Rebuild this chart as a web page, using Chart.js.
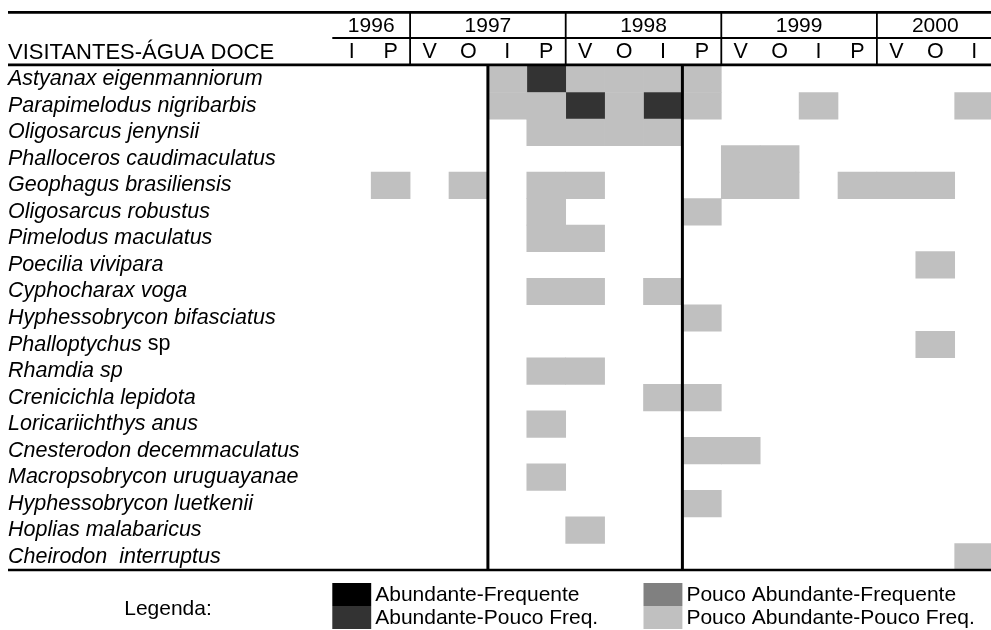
<!DOCTYPE html>
<html><head><meta charset="utf-8">
<script src="https://cdn.jsdelivr.net/npm/chart.js@4"></script>
<style>html,body{margin:0;padding:0;background:#fff;}canvas{display:block;}</style>
</head><body>
<canvas id="c" width="991" height="630"></canvas>
<script>
// ---- DATA ----
const years = ['1996', '1997', '1998', '1999', '2000'];
const seasonsPerYear = [2, 4, 4, 4, 3];
const seasons = ['I','P','V','O','I','P','V','O','I','P','V','O','I','P','V','O','I'];
const title = 'VISITANTES-ÁGUA DOCE';
const species = [
  'Astyanax eigenmanniorum','Parapimelodus nigribarbis','Oligosarcus jenynsii',
  'Phalloceros caudimaculatus','Geophagus brasiliensis','Oligosarcus robustus',
  'Pimelodus maculatus','Poecilia vivipara','Cyphocharax voga',
  'Hyphessobrycon bifasciatus','Phalloptychus','Rhamdia sp','Crenicichla lepidota',
  'Loricariichthys anus','Cnesterodon decemmaculatus','Macropsobrycon uruguayanae',
  'Hyphessobrycon luetkenii','Hoplias malabaricus','Cheirodon  interruptus'
];
const speciesUpright = ['','','','','','','','','','',' sp','','','','','','','',''];
// abundance code per species per season:
// 0 absent, 1 Pouco Abundante-Pouco Freq., 2 Pouco Abundante-Frequente,
// 3 Abundante-Pouco Freq., 4 Abundante-Frequente
const abundance = [
  [0,0,0,0,1,3,1,1,1,1,0,0,0,0,0,0,0],
  [0,0,0,0,1,1,3,1,3,1,0,0,1,0,0,0,1],
  [0,0,0,0,0,1,1,1,1,0,0,0,0,0,0,0,0],
  [0,0,0,0,0,0,0,0,0,0,1,1,0,0,0,0,0],
  [0,1,0,1,0,1,1,0,0,0,1,1,0,1,1,1,0],
  [0,0,0,0,0,1,0,0,0,1,0,0,0,0,0,0,0],
  [0,0,0,0,0,1,1,0,0,0,0,0,0,0,0,0,0],
  [0,0,0,0,0,0,0,0,0,0,0,0,0,0,0,1,0],
  [0,0,0,0,0,1,1,0,1,0,0,0,0,0,0,0,0],
  [0,0,0,0,0,0,0,0,0,1,0,0,0,0,0,0,0],
  [0,0,0,0,0,0,0,0,0,0,0,0,0,0,0,1,0],
  [0,0,0,0,0,1,1,0,0,0,0,0,0,0,0,0,0],
  [0,0,0,0,0,0,0,0,1,1,0,0,0,0,0,0,0],
  [0,0,0,0,0,1,0,0,0,0,0,0,0,0,0,0,0],
  [0,0,0,0,0,0,0,0,0,1,1,0,0,0,0,0,0],
  [0,0,0,0,0,1,0,0,0,0,0,0,0,0,0,0,0],
  [0,0,0,0,0,0,0,0,0,1,0,0,0,0,0,0,0],
  [0,0,0,0,0,0,1,0,0,0,0,0,0,0,0,0,0],
  [0,0,0,0,0,0,0,0,0,0,0,0,0,0,0,0,1]
];
const periodBounds = [4, 9]; // season indices of the two heavy vertical rules
const legendTitle = 'Legenda:';
const legendLabels = ['Abundante-Frequente','Abundante-Pouco Freq.','Pouco Abundante-Frequente','Pouco Abundante-Pouco Freq.'];
const legendCodes = [4, 3, 2, 1];
const codeColors = {1:'#c0c0c0', 2:'#808080', 3:'#333333', 4:'#000000'};

// ---- STYLE ----
const FONT = "'Liberation Sans', Arial, sans-serif";
const W = 991, H = 630;
const colW = 38.9, tableLeft = 332.3;

const datasets = seasons.map((s, c) => ({
  label: s + c,
  data: abundance.map(row => row[c] ? [c, c + 1] : null),
  backgroundColor: abundance.map(row => codeColors[row[c]] || 'rgba(0,0,0,0)'),
  borderWidth: 0,
  grouped: false,
  barPercentage: 1,
  categoryPercentage: 1
}));

const tablePlugin = {
  id: 'tablePlugin',
  afterDatasetsDraw(chart) {
    const {ctx, chartArea: a, scales: {x, y}} = chart;
    const right = chart.width;
    ctx.save();
    ctx.strokeStyle = '#000';
    ctx.fillStyle = '#000';
    const hline = (x1, x2, yy, w) => { ctx.beginPath(); ctx.lineWidth = w; ctx.moveTo(x1, yy); ctx.lineTo(x2, yy); ctx.stroke(); };
    const vline = (xx, y1, y2, w) => { ctx.beginPath(); ctx.lineWidth = w; ctx.moveTo(xx, y1); ctx.lineTo(xx, y2); ctx.stroke(); };
    const x0 = x.getPixelForValue(0);
    // header rules
    hline(8, right, 12.3, 2.7);
    hline(x0, right, 38, 2);
    hline(8, right, 64.8, 2.7);
    // years
    ctx.textAlign = 'center';
    ctx.textBaseline = 'middle';
    ctx.font = '21px ' + FONT;
    let c = 0;
    years.forEach((yr, i) => {
      const start = c; c += seasonsPerYear[i];
      const xs = x.getPixelForValue(start), xe = x.getPixelForValue(c);
      ctx.fillText(yr, (xs + xe) / 2, 26);
      if (i > 0) vline(xs, 12, 66, 1.8);
    });
    // seasons
    ctx.font = '21.5px ' + FONT;
    seasons.forEach((s, i) => ctx.fillText(s, x.getPixelForValue(i + 0.5), 52.5));
    // title
    ctx.textAlign = 'left';
    ctx.font = '22px ' + FONT;
    ctx.fillText(title, 8, 52.5);
    // species labels
    species.forEach((sp, i) => {
      const yy = y.getPixelForValue(i);
      ctx.font = 'italic 21.5px ' + FONT;
      ctx.fillText(sp, 8, yy);
      if (speciesUpright[i]) {
        const w = ctx.measureText(sp).width;
        ctx.font = '21.5px ' + FONT;
        ctx.fillText(speciesUpright[i], 8 + w, yy);
      }
    });
    // heavy period rules
    periodBounds.forEach(b => vline(x.getPixelForValue(b), a.top, a.bottom, 3));
    // bottom rule
    hline(8, right, a.bottom, 2.7);
    // legend
    ctx.textAlign = 'center';
    ctx.font = '21px ' + FONT;
    ctx.fillText(legendTitle, 168, 609);
    const sw = 23;
    legendCodes.forEach((code, i) => {
      const col = i < 2 ? 0 : 8;
      const row = i % 2;
      const sx = x.getPixelForValue(col), ex = x.getPixelForValue(col + 1);
      const sy = 583 + row * sw;
      ctx.fillStyle = codeColors[code];
      ctx.fillRect(sx, sy, ex - sx, sw);
      ctx.fillStyle = '#000';
      ctx.textAlign = 'left';
      ctx.font = '21px ' + FONT;
      ctx.fillText(legendLabels[i], ex + 4, sy + sw / 2 + 1);
    });
    ctx.restore();
  }
};

new Chart(document.getElementById('c'), {
  type: 'bar',
  data: { labels: species, datasets },
  options: {
    indexAxis: 'y',
    responsive: false,
    animation: false,
    devicePixelRatio: 1,
    layout: { padding: { left: tableLeft, right: 0, top: 66, bottom: 60 } },
    plugins: { legend: { display: false }, tooltip: { enabled: false } },
    scales: {
      x: { type: 'linear', min: 0, max: (W - tableLeft) / colW, display: false },
      y: { type: 'category', offset: true, display: false }
    }
  },
  plugins: [tablePlugin]
});
</script>
</body></html>
